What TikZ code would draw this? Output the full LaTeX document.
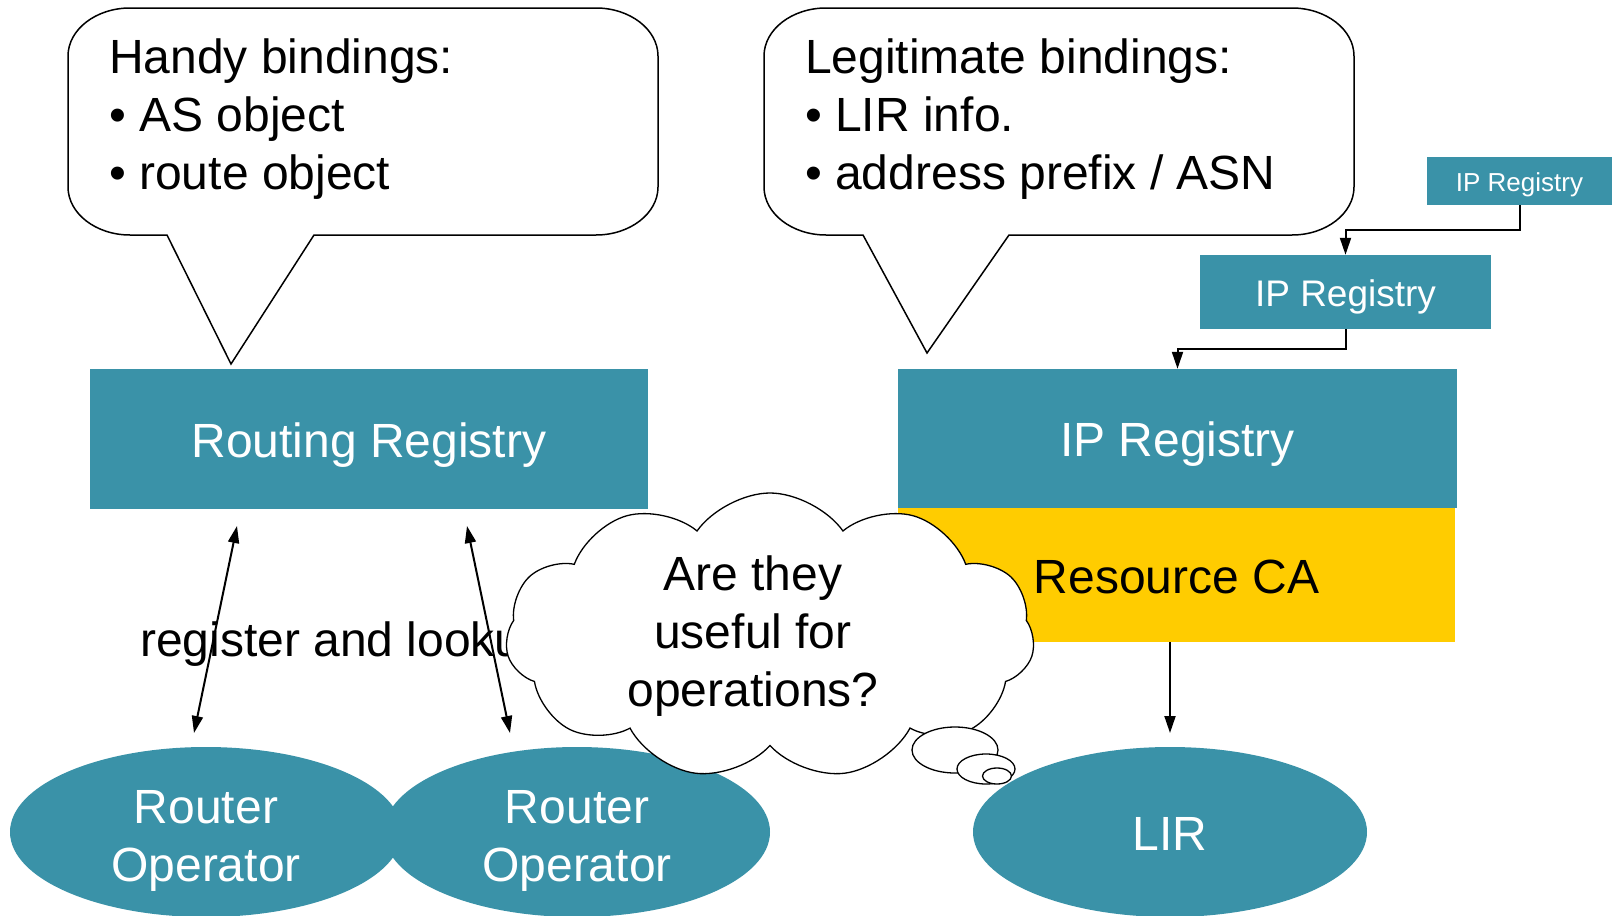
\documentclass[tikz,border=0pt]{standalone}
\usepackage{fontspec}
\setmainfont{Liberation Sans}
\usetikzlibrary{shapes.geometric,shapes.symbols,arrows.meta}
\definecolor{teal1}{RGB}{58,146,168}
\definecolor{gold1}{RGB}{255,204,0}
\tikzset{
 big/.style={font=\fontsize{48}{57.6}\selectfont},
 box/.style={fill=teal1, text=white, inner sep=0pt, big, text height=36pt, text depth=0pt},
 oval/.style={ellipse, fill=teal1, text=white, inner sep=0pt, big, align=center},
 callout/.style={draw=black, fill=white, line width=1.5pt},
 arr/.style={line width=2pt, -{Triangle[length=17pt,width=11pt]}},
 darr/.style={line width=2pt, {Triangle[length=17pt,width=11pt]}-{Triangle[length=17pt,width=11pt]}},
 bubble/.style={ellipse, draw=black, fill=white, line width=1.3pt, inner sep=0pt},
}
\begin{document}
\begin{tikzpicture}[x=1pt,y=-1pt]
\useasboundingbox[fill=white] (0,0) rectangle (1618,916);
% callouts
\draw[callout] (314,235) -- (596,235) .. controls (630,235) and (658,213.5) .. (658,187) -- (658,56) .. controls (658,29.5) and (630,8) .. (596,8) -- (130,8) .. controls (96,8) and (68,29.5) .. (68,56) -- (68,187) .. controls (68,213.5) and (96,235) .. (130,235) -- (167,235) -- (231,364) -- cycle;
\draw[callout] (1009,235) -- (1292,235) .. controls (1326,235) and (1354,213.5) .. (1354,187) -- (1354,56) .. controls (1354,29.5) and (1326,8) .. (1292,8) -- (826,8) .. controls (792,8) and (764,29.5) .. (764,56) -- (764,187) .. controls (764,213.5) and (792,235) .. (826,235) -- (863,235) -- (927,353) -- cycle;
\node[big, anchor=north west, align=left, inner sep=0pt] (hb) at (109,39) {Handy bindings:\\• AS object\\• route object};
\node[big, anchor=north west, align=left, inner sep=0pt] (lb) at (805,39) {Legitimate bindings:\\• LIR info.\\• address prefix / ASN};
% boxes
\node[box, minimum width=558, minimum height=140] (rr) at (369,439) {Routing Registry};
\node[box, fill=gold1, text=black, minimum width=557, minimum height=134] (rca) at (1176.5,575) {Resource CA};
\node[box, minimum width=559, minimum height=139] (ip1) at (1177.5,438.5) {IP Registry};
\node[box, minimum width=291, minimum height=74, font=\fontsize{37}{44}\selectfont, text height=28pt] (ip2) at (1345.5,292) {IP Registry};
\node[box, minimum width=185, minimum height=48, font=\fontsize{26}{31}\selectfont, text height=20pt] (ip3) at (1519.5,181) {IP Registry};
\draw[arr] (ip3.south) -- ++(0,25) -| (ip2.north);
\draw[arr] (ip2.south) -- ++(0,20) -| (ip1.north);
% ovals
\node[oval, minimum width=392, minimum height=170, text height=101pt, text depth=2pt] (ro1) at (206,832) {Router\\Operator};
\node[oval, minimum width=386, minimum height=170, text height=101pt, text depth=2pt] (ro2) at (577,832) {Router\\Operator};
\node[oval, minimum width=394, minimum height=170, text height=36pt, text depth=0pt] (lir) at (1170,832) {LIR};
\coordinate (lirtip) at (1170,733);
\draw[arr] (lir.north |- rca.south) -- (lirtip);
% label
\node[big, anchor=base west, inner sep=0pt] (rl) at (140,656) {register and lookup};
% cloud
\node[cloud, draw=black, fill=white, line width=1.3pt, cloud puffs=11, cloud puff arc=110, cloud ignores aspect, minimum width=529, minimum height=286, inner sep=0pt] (cl) at (770,636) {};
\node[bubble, minimum width=86, minimum height=46] (b1) at (955,750) {};
\node[bubble, minimum width=58, minimum height=30] (b2) at (986,769) {};
\node[bubble, minimum width=29, minimum height=16] (b3) at (997,776) {};
\node[big, align=center, inner sep=0pt] (q) at (753,636) {Are they\\useful for\\operations?};
% double arrows
\coordinate (a1t) at (237,526); \coordinate (a1b) at (194,733);
\coordinate (a2t) at (467,526); \coordinate (a2b) at (510,733);
\draw[darr] (a1b) -- (a1t);
\draw[darr] (a2b) -- (a2t);
\end{tikzpicture}
\end{document}
